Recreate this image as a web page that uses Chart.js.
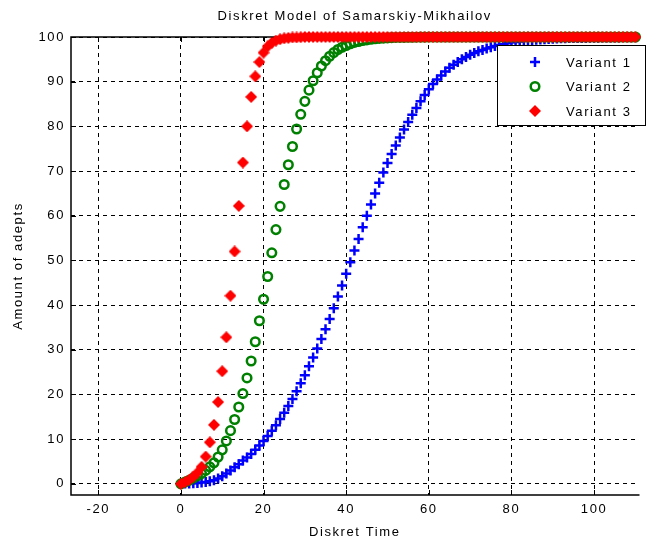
<!DOCTYPE html>
<html>
<head>
<meta charset="utf-8">
<title>Diskret Model of Samarskiy-Mikhailov</title>
<script src="https://cdn.jsdelivr.net/npm/chart.js@4.4.1/dist/chart.umd.min.js"></script>
<style>
  html, body { margin: 0; padding: 0; background: #fff; }
  #wrap { width: 646px; height: 542px; }
</style>
</head>
<body>
<div id="wrap"><canvas id="adeptsChart" width="646" height="542"></canvas></div>
<script>
// time steps 0..110
const diskretTime = Array.from({ length: 111 }, (_, i) => i);

const timeTicks = [-20, 0, 20, 40, 60, 80, 100];
const adeptTicks = [0, 10, 20, 30, 40, 50, 60, 70, 80, 90, 100];

const seriesNames = ["Variant 1", "Variant 2", "Variant 3"];

const variant1 = [
  0, 0.05, 0.1, 0.15, 0.2, 0.3, 0.4, 0.55, 0.8, 1.2,
  1.7, 2.3, 3.0, 3.7, 4.4, 5.2, 5.9, 6.7, 7.6, 8.6,
  9.6, 10.7, 11.9, 13.1, 14.5, 15.9, 17.4, 19.0, 20.7, 22.5,
  24.3, 26.3, 28.3, 30.3, 32.4, 34.6, 36.9, 39.3, 41.9, 44.4,
  47.0, 49.6, 52.2, 54.8, 57.4, 60.0, 62.5, 65.0, 67.4, 69.7,
  71.8, 73.8, 75.7, 77.5, 79.3, 81.0, 82.6, 84.1, 85.6, 87.0,
  88.3, 89.5, 90.5, 91.4, 92.3, 93.1, 93.8, 94.4, 95.0, 95.5,
  96.0, 96.4, 96.8, 97.1, 97.4, 97.7, 98.0, 98.2, 98.4, 98.6,
  98.8, 98.9, 99.0, 99.1, 99.2, 99.3, 99.4, 99.45, 99.5, 99.55,
  99.6, 99.65, 99.7, 99.7, 99.75, 99.75, 99.8, 99.8, 99.8, 99.85,
  99.85, 99.85, 99.9, 99.9, 99.9, 99.9, 99.9, 99.95, 99.95, 99.95,
  99.95,
];

const variant2 = [
  0, 0.4, 0.8, 1.3, 1.8, 2.3, 3.0, 3.8, 4.7, 6.0,
  7.6, 9.6, 11.9, 14.4, 17.2, 20.2, 23.7, 27.5, 31.8, 36.5,
  41.3, 46.4, 51.7, 56.9, 62.1, 67.0, 71.4, 75.5, 79.4, 82.7,
  85.6, 88.1, 90.2, 92.0, 93.5, 94.7, 95.7, 96.5, 97.2, 97.7,
  98.1, 98.5, 98.8, 99.0, 99.2, 99.35, 99.5, 99.6, 99.7, 99.75,
  99.8, 99.85, 99.9, 99.9, 99.92, 99.94, 99.95, 99.96, 99.97, 99.98,
  100, 100, 100, 100, 100, 100, 100, 100, 100, 100,
  100, 100, 100, 100, 100, 100, 100, 100, 100, 100,
  100, 100, 100, 100, 100, 100, 100, 100, 100, 100,
  100, 100, 100, 100, 100, 100, 100, 100, 100, 100,
  100, 100, 100, 100, 100, 100, 100, 100, 100, 100,
  100,
];

const variant3 = [
  0, 0.4, 0.9, 1.6, 2.5, 3.8, 6.1, 9.3, 13.2, 18.3,
  25.2, 32.8, 42.1, 52.0, 62.2, 71.9, 80.0, 86.6, 91.2, 94.4,
  96.5, 97.9, 98.7, 99.2, 99.5, 99.7, 99.8, 99.9, 99.9, 99.95,
  100, 100, 100, 100, 100, 100, 100, 100, 100, 100,
  100, 100, 100, 100, 100, 100, 100, 100, 100, 100,
  100, 100, 100, 100, 100, 100, 100, 100, 100, 100,
  100, 100, 100, 100, 100, 100, 100, 100, 100, 100,
  100, 100, 100, 100, 100, 100, 100, 100, 100, 100,
  100, 100, 100, 100, 100, 100, 100, 100, 100, 100,
  100, 100, 100, 100, 100, 100, 100, 100, 100, 100,
  100, 100, 100, 100, 100, 100, 100, 100, 100, 100,
  100,
];

const FONT = "'Liberation Sans', Arial, Helvetica, sans-serif";
const SPACING = "1.6px";

// filled four-point marker for the third variant
function starMarker(size, color) {
  const c = document.createElement("canvas");
  c.width = size;
  c.height = size;
  const g = c.getContext("2d");
  const m = size / 2;
  const q = size * 0.25;
  g.fillStyle = color;
  g.beginPath();
  g.moveTo(m, 0);
  g.lineTo(m + q, m - q);
  g.lineTo(size, m);
  g.lineTo(m + q, m + q);
  g.lineTo(m, size);
  g.lineTo(m - q, m + q);
  g.lineTo(0, m);
  g.lineTo(m - q, m - q);
  g.closePath();
  g.fill();
  return c;
}

const redMarker = starMarker(12, "#ff0000");

// axes box, inward tick marks and the title
const framePlugin = {
  id: "frame",
  beforeDraw(chart) {
    chart.ctx.letterSpacing = SPACING;
  },
  beforeDatasetsDraw(chart) {
    const { ctx, chartArea: a, scales } = chart;
    ctx.save();
    ctx.strokeStyle = "#000";
    ctx.lineWidth = 1.5;
    ctx.beginPath();
    ctx.moveTo(a.right + 1, a.top);
    ctx.lineTo(a.left, a.top);
    ctx.lineTo(a.left, a.bottom);
    ctx.lineTo(a.right + 1, a.bottom);
    ctx.stroke();
    ctx.lineWidth = 1;
    ctx.beginPath();
    timeTicks.forEach((v) => {
      const x = Math.round(scales.x.getPixelForValue(v)) + 0.5;
      ctx.moveTo(x, a.bottom);
      ctx.lineTo(x, a.bottom - 5);
      ctx.moveTo(x, a.top);
      ctx.lineTo(x, a.top + 5);
    });
    adeptTicks.forEach((v) => {
      const y = Math.round(scales.y.getPixelForValue(v)) + 0.5;
      ctx.moveTo(a.left, y);
      ctx.lineTo(a.left + 5, y);
    });
    ctx.stroke();
    ctx.restore();

    ctx.save();
    ctx.fillStyle = "#000";
    ctx.font = "13px " + FONT;
    ctx.letterSpacing = SPACING;
    ctx.textAlign = "center";
    ctx.textBaseline = "middle";
    ctx.fillText("Diskret Model of Samarskiy-Mikhailov", (a.left + a.right) / 2, 16);
    ctx.restore();
  },
  afterDatasetsDraw(chart) {
    // legend box in the upper right corner of the plot
    const { ctx } = chart;
    const box = { x: 497.5, y: 45.5, w: 148, h: 80 };
    ctx.save();
    ctx.fillStyle = "#fff";
    ctx.fillRect(box.x, box.y, box.w, box.h);
    ctx.strokeStyle = "#000";
    ctx.lineWidth = 1;
    ctx.strokeRect(box.x, box.y, box.w, box.h);

    const rows = [62, 86.5, 111];
    const mx = 535;
    ctx.font = "13px " + FONT;
    ctx.letterSpacing = SPACING;
    ctx.textAlign = "left";
    ctx.textBaseline = "middle";
    chart.data.datasets.forEach((ds, i) => {
      const y = rows[i];
      if (ds.pointStyle === "cross") {
        ctx.strokeStyle = ds.borderColor;
        ctx.lineWidth = ds.pointBorderWidth;
        ctx.beginPath();
        ctx.moveTo(mx - 5, y);
        ctx.lineTo(mx + 5, y);
        ctx.moveTo(mx, y - 5);
        ctx.lineTo(mx, y + 5);
        ctx.stroke();
      } else if (ds.pointStyle === "circle") {
        ctx.strokeStyle = ds.borderColor;
        ctx.lineWidth = ds.pointBorderWidth;
        ctx.beginPath();
        ctx.arc(mx, y, ds.pointRadius, 0, Math.PI * 2);
        ctx.stroke();
      } else {
        ctx.drawImage(ds.pointStyle, mx - ds.pointStyle.width / 2, y - ds.pointStyle.height / 2);
      }
      ctx.fillStyle = "#000";
      ctx.fillText(ds.label, 566, y + 1);
    });
    ctx.restore();
  },
};

const ctx = document.getElementById("adeptsChart").getContext("2d");
const adeptsChart = new Chart(ctx, {
  type: "line",
  data: {
    labels: diskretTime,
    datasets: [
      {
        label: seriesNames[0],
        data: variant1,
        showLine: false,
        pointStyle: "cross",
        pointRadius: 5,
        pointBorderWidth: 2.5,
        borderColor: "#0000ff",
        backgroundColor: "#0000ff",
        clip: false,
        order: 3,
      },
      {
        label: seriesNames[1],
        data: variant2,
        showLine: false,
        pointStyle: "circle",
        pointRadius: 4.3,
        pointBorderWidth: 2.5,
        borderColor: "#008000",
        backgroundColor: "rgba(0,0,0,0)",
        clip: false,
        order: 2,
      },
      {
        label: seriesNames[2],
        data: variant3,
        showLine: false,
        pointStyle: redMarker,
        pointRadius: 6,
        borderColor: "#ff0000",
        backgroundColor: "#ff0000",
        clip: false,
        order: 1,
      },
    ],
  },
  options: {
    responsive: false,
    animation: false,
    events: [],
    layout: {
      padding: { top: 37, left: 0, right: 0, bottom: 0 },
    },
    plugins: {
      legend: { display: false },
      tooltip: { enabled: false },
      title: { display: false },
    },
    scales: {
      x: {
        type: "linear",
        min: -26.6,
        max: 110.75,
        afterBuildTicks: (scale) => {
          scale.ticks = timeTicks.map((v) => ({ value: v }));
        },
        afterFit: (scale) => {
          scale.height = 47;
        },
        grid: { color: "#000", lineWidth: 1, drawTicks: false },
        border: { display: false, dash: [4, 4] },
        ticks: {
          color: "#000",
          font: { family: FONT, size: 13 },
          padding: 7,
          maxRotation: 0,
          autoSkip: false,
        },
        title: {
          display: true,
          text: "Diskret Time",
          color: "#000",
          font: { family: FONT, size: 13 },
          padding: { top: 0, bottom: 2 },
        },
      },
      y: {
        type: "linear",
        min: -2.5,
        max: 100,
        afterBuildTicks: (scale) => {
          scale.ticks = adeptTicks.map((v) => ({ value: v }));
        },
        afterFit: (scale) => {
          scale.width = 71;
        },
        grid: { color: "#000", lineWidth: 1, drawTicks: false },
        border: { display: false, dash: [4, 4] },
        ticks: {
          color: "#000",
          font: { family: FONT, size: 13 },
          padding: 6,
          autoSkip: false,
        },
        title: {
          display: true,
          text: "Amount of adepts",
          color: "#000",
          font: { family: FONT, size: 13 },
          padding: { top: 11, bottom: 0 },
        },
      },
    },
  },
  plugins: [framePlugin],
});
</script>
</body>
</html>
